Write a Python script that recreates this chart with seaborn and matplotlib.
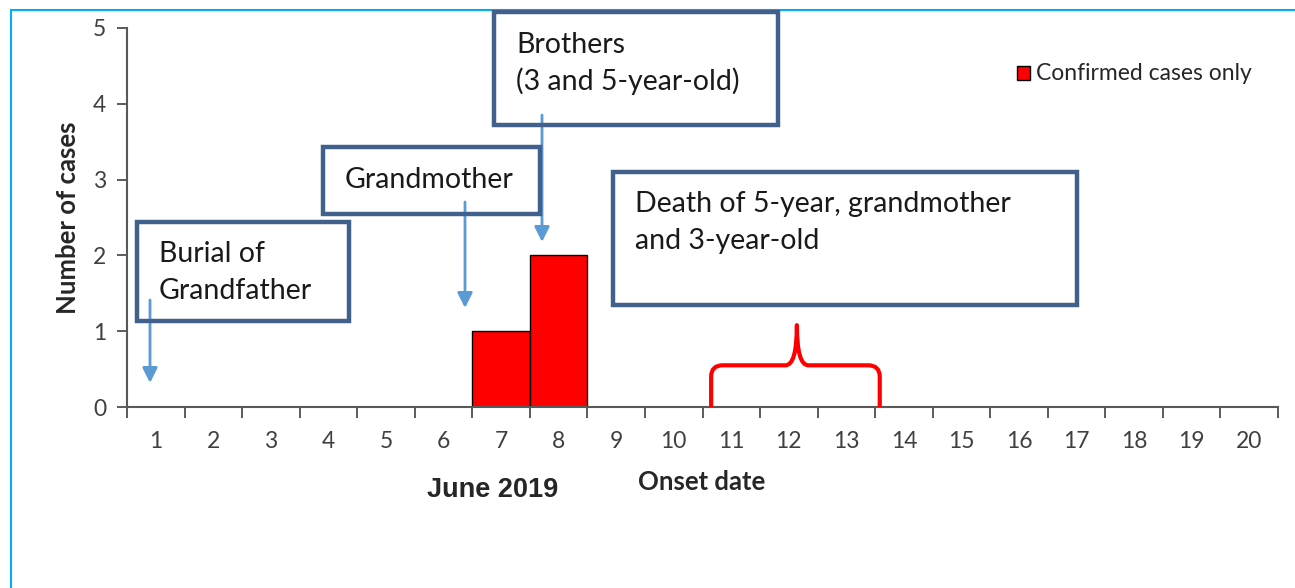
import matplotlib
matplotlib.use("Agg")
import matplotlib.pyplot as plt
from matplotlib.patches import Rectangle, PathPatch
from matplotlib.path import Path
import seaborn as sns
import pandas as pd

# onset dates (June 2019) and confirmed cases per day
days = [str(d) for d in range(1, 21)]
cases = [0, 0, 0, 0, 0, 0, 1, 2, 0, 0, 0, 0, 0, 0, 0, 0, 0, 0, 0, 0]
series_name = "Confirmed cases only"

W, H = 1295, 588
BOX = "#41618C"
ARROW = "#5B9BD5"
FONT = ["Lato", "DejaVu Sans"]

sns.set_style("white")
plt.rcParams["font.family"] = FONT

df = pd.DataFrame({"day": days, "cases": cases})

fig = plt.figure(figsize=(W / 100, H / 100), dpi=100)
ax = fig.add_axes([127 / W, 1 - 407 / H, (1278 - 127) / W, (407 - 28) / H])

sns.barplot(data=df, x="day", y="cases", order=days, color="red",
            edgecolor="black", linewidth=1, width=1, saturation=1, ax=ax)

ax.set_xlim(-0.5, len(days) - 0.5)
ax.set_ylim(0, 5)
ax.set_yticks(range(0, 6))
ax.set_xticks([i - 0.5 for i in range(len(days) + 1)])
ax.set_xticklabels([])
ax.set_xticks(range(len(days)), minor=True)
ax.set_xticklabels(days, minor=True)
ax.tick_params(axis="x", which="major", direction="out", length=8, width=1.2,
               color="#404040", bottom=True)
ax.tick_params(axis="x", which="minor", length=0, pad=17, labelsize=16.5,
               labelcolor="#404040")
ax.tick_params(axis="y", direction="out", length=7, width=1.2, color="#404040",
               left=True, labelsize=16.5, labelcolor="#404040", pad=8)
for s in ["top", "right"]:
    ax.spines[s].set_visible(False)
for s in ["left", "bottom"]:
    ax.spines[s].set_color("#595959")
    ax.spines[s].set_linewidth(1.5)
ax.set_xlabel("")
ax.set_ylabel("Number of cases", fontsize=18.5, fontweight="bold")
ax.yaxis.set_label_coords(-0.041, 0.5)


def fx(x):
    return x / W


def fy(y):
    return 1 - y / H


# outer frame
fig.add_artist(Rectangle((fx(11), fy(600)), fx(1300), 590 / H, transform=fig.transFigure,
                         fill=False, ec="#00B0F0", lw=1.5))

# annotation boxes: (x0, y0, x1, y1) in pixels, first baseline, text lines
boxes = [
    ((137, 222, 349, 321), 262, ["Burial of", "Grandfather"]),
    ((323, 147, 540, 214), 188, ["Grandmother"]),
    ((494, 12, 778, 125), 53, ["Brothers", "(3 and 5-year-old)"]),
    ((613, 172, 1077, 305), 212, ["Death of 5-year, grandmother", "and 3-year-old"]),
]
for (x0, y0, x1, y1), base, lines in boxes:
    fig.add_artist(Rectangle((fx(x0), fy(y1)), (x1 - x0) / W, (y1 - y0) / H,
                             transform=fig.transFigure, fill=False, ec=BOX, lw=3.2))
    for i, line in enumerate(lines):
        fig.text(fx(x0 + 22), fy(base + 37 * i), line, ha="left", va="baseline",
                 fontsize=20.5, color="#1a1a1a")

# arrows from boxes to dates
arrows = [(150, 300, 383), (465, 202, 308), (542, 115, 242)]
for x, y0, y1 in arrows:
    ax.annotate("", xy=(fx(x), fy(y1)), xytext=(fx(x), fy(y0)),
                xycoords="figure fraction", textcoords="figure fraction",
                arrowprops=dict(arrowstyle="-|>,head_length=0.9,head_width=0.45",
                                color=ARROW, lw=2, shrinkA=0, shrinkB=0))

# curly brace over deaths period (data coords)
xl, xr, xm, yh, yp = 9.65, 12.58, 11.14, 0.55, 1.08
rx, ry = 0.2, 0.15
verts = [(xl, 0), (xl, yh - ry), (xl, yh), (xl + rx, yh), (xm - rx, yh),
         (xm, yh), (xm, yp), (xm, yh), (xm + rx, yh), (xr - rx, yh),
         (xr, yh), (xr, yh - ry), (xr, 0)]
codes = [Path.MOVETO, Path.LINETO, Path.CURVE3, Path.CURVE3, Path.LINETO,
         Path.CURVE3, Path.CURVE3, Path.CURVE3, Path.CURVE3, Path.LINETO,
         Path.CURVE3, Path.CURVE3, Path.LINETO]
ax.add_patch(PathPatch(Path(verts, codes), fill=False, ec="red", lw=3,
                       capstyle="butt", joinstyle="round", clip_on=False, zorder=5))

# legend
fig.add_artist(Rectangle((fx(1017), fy(80)), 13 / W, 14 / H, transform=fig.transFigure,
                         fc="red", ec="black", lw=1))
fig.text(fx(1036), fy(73), series_name, ha="left", va="center", fontsize=16.5,
         color="#262626")

fig.text(fx(493), fy(497), "June 2019", ha="center", va="baseline", fontsize=19.5,
         fontweight="bold", family=["Liberation Sans", "DejaVu Sans"])
fig.text(fx(702), fy(490), "Onset date", ha="center", va="baseline", fontsize=18.5,
         fontweight="bold")

fig.savefig("out.png", dpi=100)
